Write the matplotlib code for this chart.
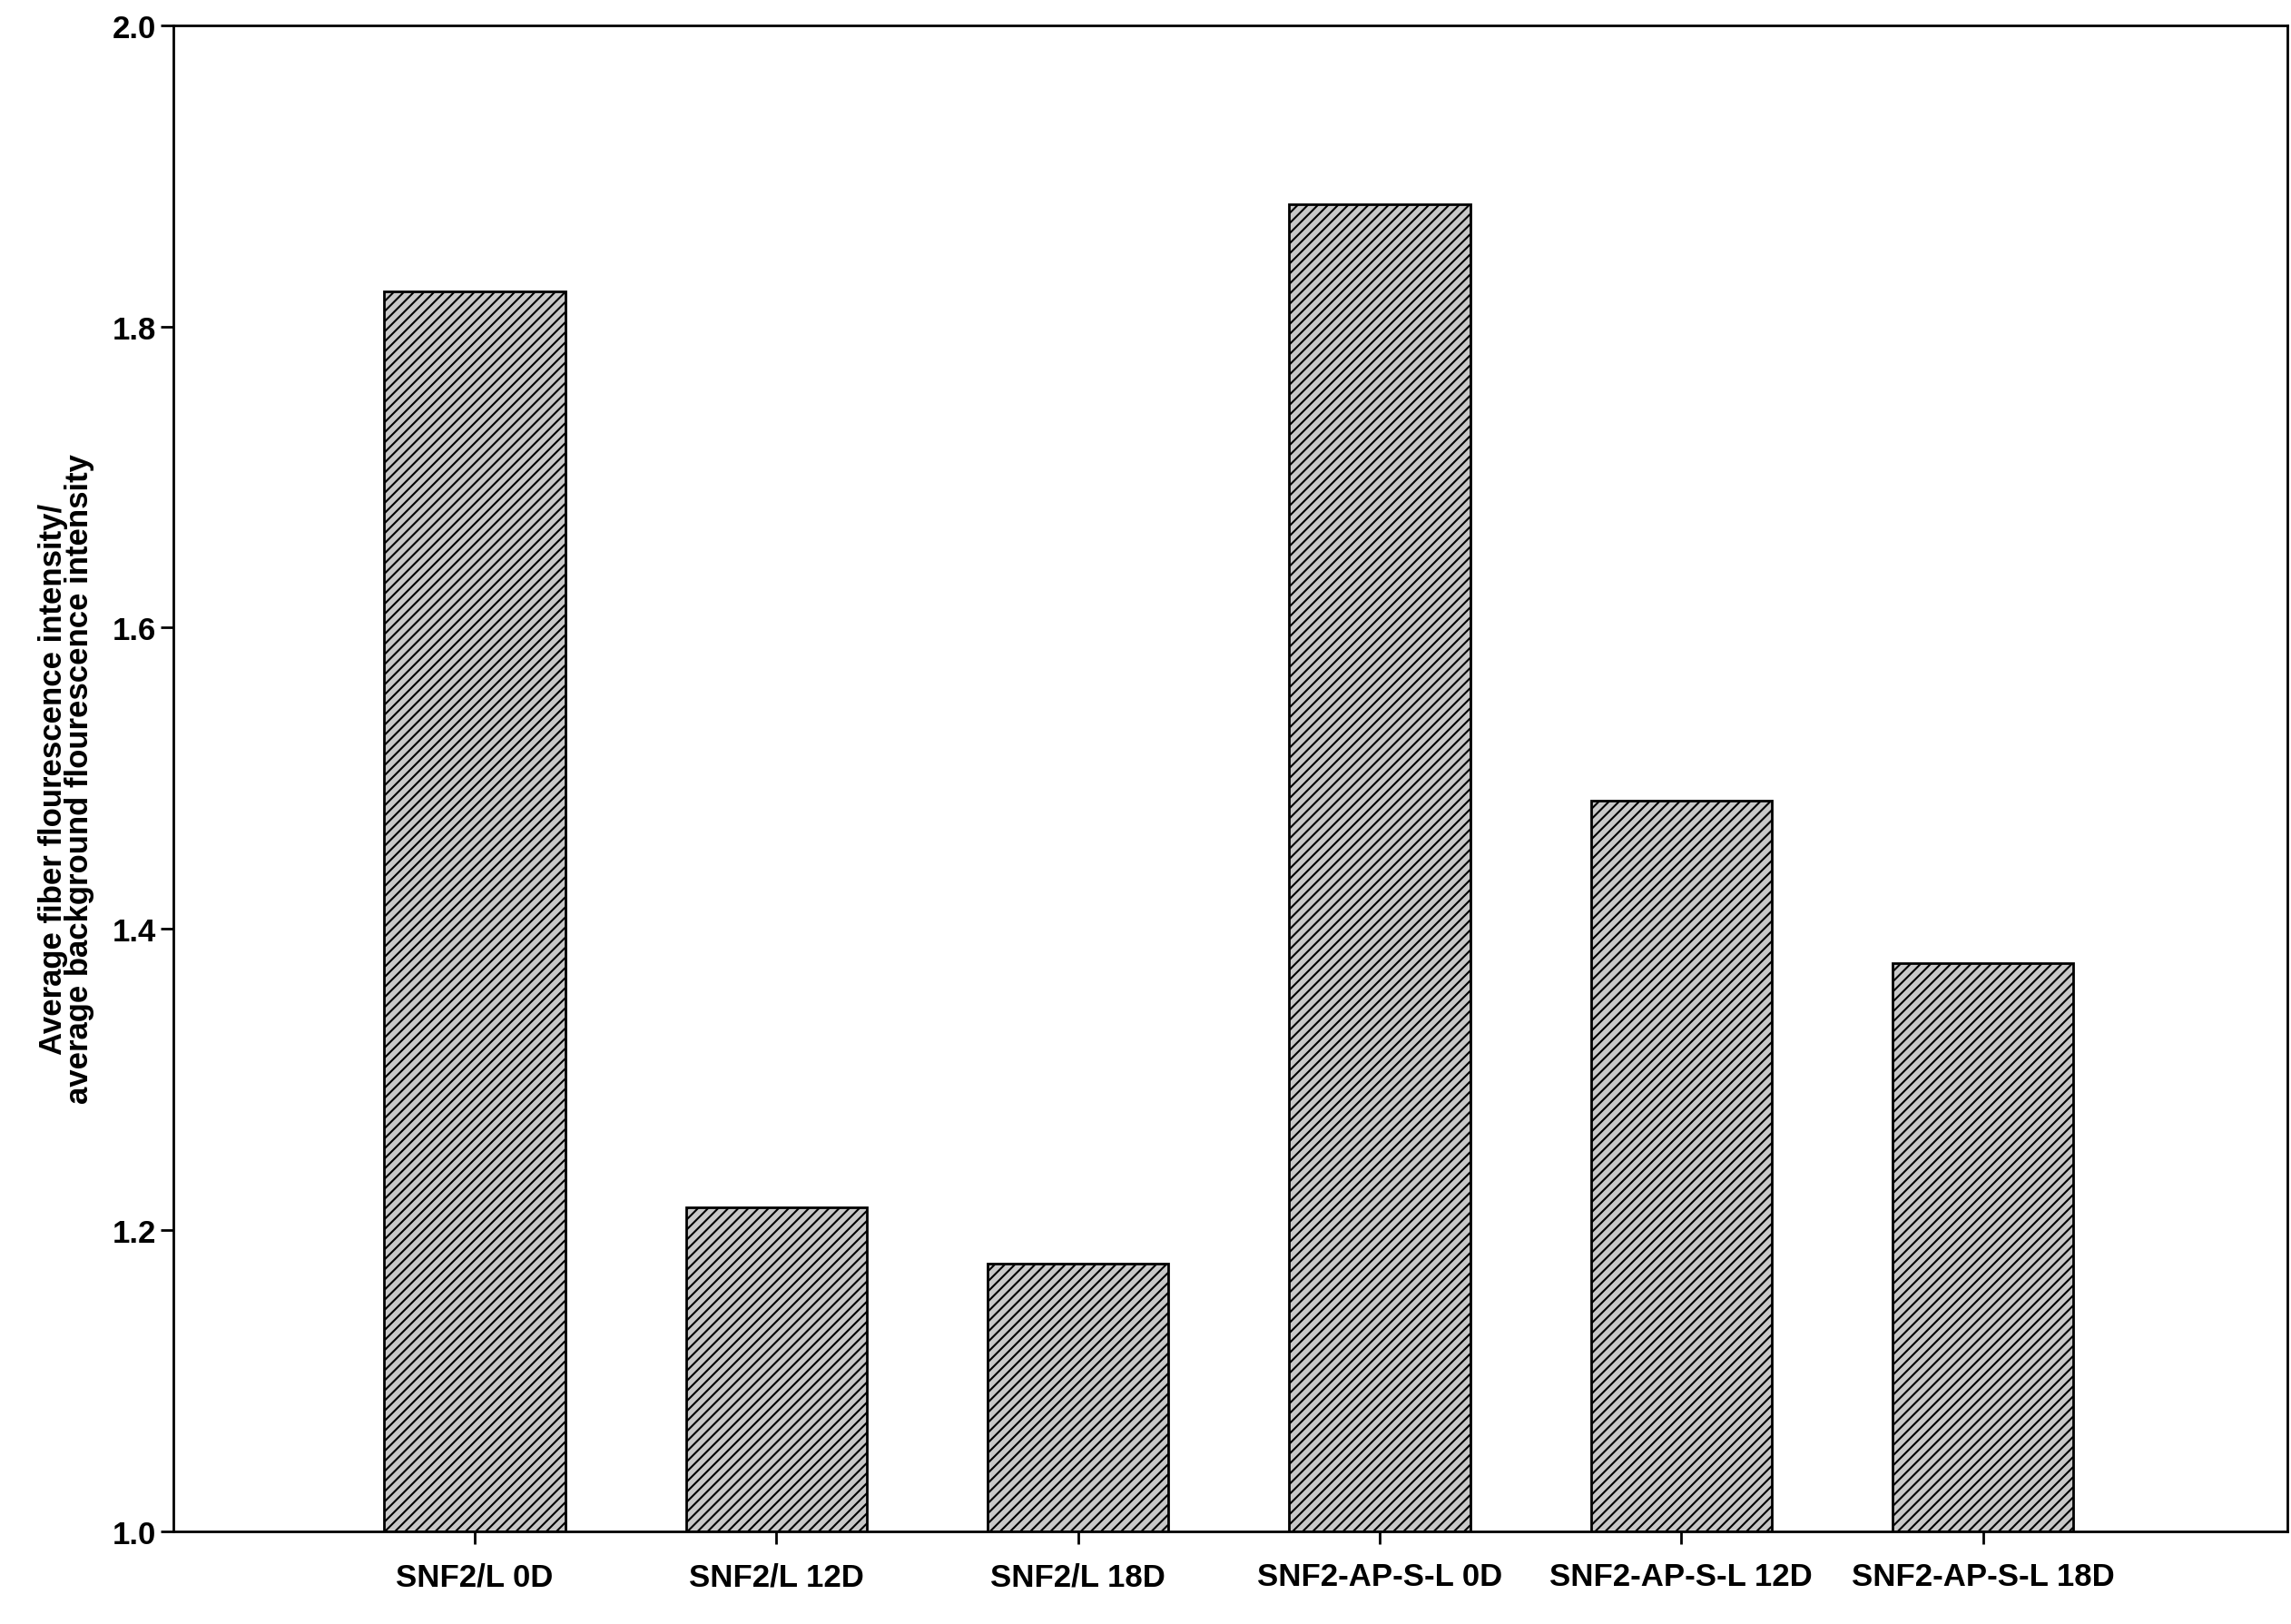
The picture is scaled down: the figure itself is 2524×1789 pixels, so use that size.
import matplotlib
matplotlib.use('Agg')
import matplotlib.pyplot as plt
import numpy as np

plt.rcParams['font.family'] = ['Liberation Sans', 'DejaVu Sans']
plt.rcParams['hatch.linewidth'] = 1.5

categories = ['SNF2/L 0D', 'SNF2/L 12D', 'SNF2/L 18D',
              'SNF2-AP-S-L 0D', 'SNF2-AP-S-L 12D', 'SNF2-AP-S-L 18D']
values = [1.823, 1.215, 1.178, 1.881, 1.485, 1.377]

fig = plt.figure(figsize=(25.24, 17.9), dpi=100)
ax = fig.add_axes([0.0755, 0.057, 0.923, 0.927])

x = np.arange(len(categories))
ax.bar(x, np.array(values) - 1.0, bottom=1.0, width=0.6, color='#c8c8c8',
       edgecolor='black', linewidth=2, hatch='///')

ax.set_xlim(-1.0, 6.01)
ax.set_ylim(1.0, 2.0)
ax.set_yticks(np.arange(1.0, 2.01, 0.2))
ax.set_yticklabels([f'{v:.1f}' for v in np.arange(1.0, 2.01, 0.2)])
ax.set_xticks(x)
ax.set_xticklabels(categories)
for lab in ax.get_xticklabels() + ax.get_yticklabels():
    lab.set_fontweight('bold')
ax.tick_params(axis='both', labelsize=25, width=2, length=10, direction='out')
ax.tick_params(axis='x', pad=14)
for s in ax.spines.values():
    s.set_linewidth(2)

ax.set_ylabel('Average fiber flourescence intensity/\naverage background flourescence intensity',
              fontsize=25, fontweight='bold', linespacing=0.85, labelpad=14)

fig.savefig('out.png', dpi=100)
